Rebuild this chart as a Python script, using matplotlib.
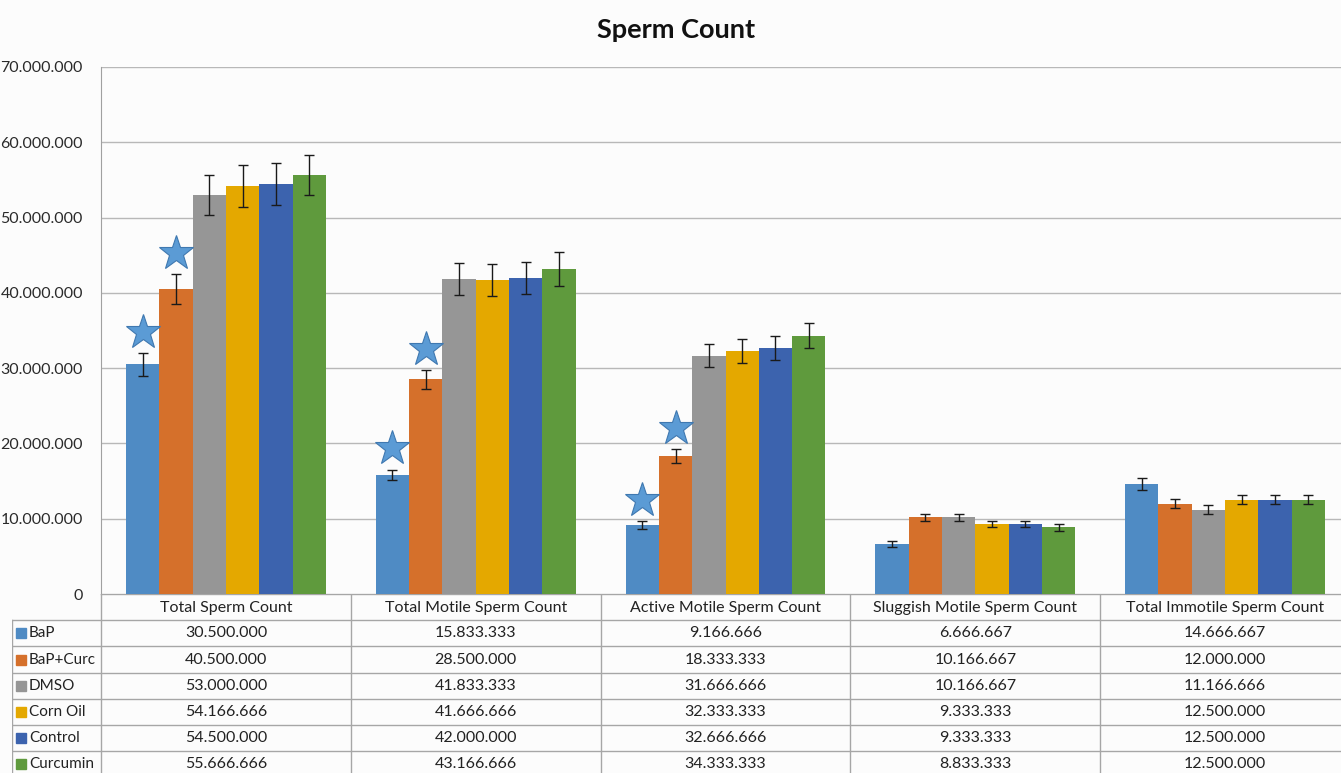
import numpy as np
import matplotlib.pyplot as plt
from matplotlib.ticker import FuncFormatter

plt.rcParams['font.family'] = ['Lato', 'DejaVu Sans']

categories = ['Total Sperm Count', 'Total Motile Sperm Count', 'Active Motile Sperm Count',
              'Sluggish Motile Sperm Count', 'Total Immotile Sperm Count']
groups = ['BaP', 'BaP+Curc', 'DMSO', 'Corn Oil', 'Control', 'Curcumin']
colors = ['#4f8bc4', '#d5702b', '#969696', '#e4a800', '#3c63ae', '#5f9a3d']

bap = [30500000, 15833333, 9166666, 6666667, 14666667]
bap_curc = [40500000, 28500000, 18333333, 10166667, 12000000]
dmso = [53000000, 41833333, 31666666, 10166667, 11166666]
corn_oil = [54166666, 41666666, 32333333, 9333333, 12500000]
control = [54500000, 42000000, 32666666, 9333333, 12500000]
curcumin = [55666666, 43166666, 34333333, 8833333, 12500000]

bap_err = [1500000, 700000, 500000, 400000, 800000]
bap_curc_err = [2000000, 1300000, 900000, 500000, 600000]
dmso_err = [2600000, 2100000, 1500000, 500000, 600000]
corn_oil_err = [2800000, 2100000, 1600000, 400000, 600000]
control_err = [2800000, 2100000, 1600000, 400000, 600000]
curcumin_err = [2700000, 2200000, 1700000, 400000, 600000]

# significance stars: (group index, category index)
stars = [(0, 0), (1, 0), (0, 1), (1, 1), (0, 2), (1, 2)]

series = [bap, bap_curc, dmso, corn_oil, control, curcumin]
errs = [bap_err, bap_curc_err, dmso_err, corn_oil_err, control_err, curcumin_err]


def dots(v, pos=None):
    return f"{int(v):,}".replace(',', '.')


W, H = 1341, 773
fig = plt.figure(figsize=(W / 100, H / 100), dpi=100, facecolor='#fcfcfc')

# main bar axes (extends a little past the right edge, like the original export)
ax = fig.add_axes([101 / W, 179 / H, 1249 / W, 527 / H])
ax.set_facecolor('#fcfcfc')
x = np.arange(len(categories))
w = 0.8 / len(groups)
for i, (vals, e, c) in enumerate(zip(series, errs, colors)):
    pos = x + (i - 2.5) * w
    ax.bar(pos, vals, w, color=c, zorder=2)
    ax.errorbar(pos, vals, yerr=e, fmt='none', ecolor='#1a1a1a', elinewidth=1,
                capsize=3.5, capthick=1, zorder=3)

for g, k in stars:
    ys = series[g][k] + errs[g][k] + 2800000
    ax.plot(x[k] + (g - 2.5) * w, ys, marker='*', markersize=26,
            color='#5b9bd5', markeredgecolor='#3f78b0', markeredgewidth=0.8, zorder=4)

ax.set_xlim(-0.5, len(categories) - 0.5)
ax.set_ylim(0, 70000000)
ax.set_yticks(np.arange(0, 70000001, 10000000))
ax.yaxis.set_major_formatter(FuncFormatter(dots))
ax.tick_params(axis='y', length=0, labelsize=11.5, colors='#2a2a2a', pad=13)
ax.set_xticks([])
ax.grid(axis='y', color='#b8b8b8', lw=1, zorder=0)
for s in ['top', 'right', 'bottom']:
    ax.spines[s].set_visible(False)
ax.spines['left'].set_color('#a0a0a0')

fig.text(676 / W, 1 - 30 / H, 'Sperm Count', ha='center', va='center',
         fontsize=19.5, fontweight='bold', color='#111111')

# data table below the plot
row_h = 26.2
lead = 89 / 249.8
tax = fig.add_axes([12 / W, 0, 1338 / W, 179 / H])
tax.set_xlim(-0.5 - lead, len(categories) - 0.5)
tax.set_ylim(179 / row_h, 0)
tax.axis('off')
lc = '#a6a6a6'
nrows = len(groups)
tax.plot([-0.5, len(categories) - 0.5], [0, 0], color=lc, lw=1)
for r in range(1, nrows + 1):
    tax.plot([-0.5 - lead, len(categories) - 0.5], [r, r], color=lc, lw=1)
for k in range(len(categories) + 1):
    tax.plot([k - 0.5, k - 0.5], [0, 10], color=lc, lw=1)
tax.plot([-0.5 - lead + 0.002, -0.5 - lead + 0.002], [1, 10], color=lc, lw=1)

for k, cat in enumerate(categories):
    tax.text(k, 0.55, cat, ha='center', va='center', fontsize=11.5, color='#222222')
for r, (name, vals, c) in enumerate(zip(groups, series, colors)):
    yc = r + 1.5
    tax.plot(-0.5 - lead + 9 / 249.8, yc, marker='s', markersize=7, color=c)
    tax.text(-0.5 - lead + 17 / 249.8, yc, name, ha='left', va='center',
             fontsize=11, color='#222222')
    for k, v in enumerate(vals):
        tax.text(k, yc, dots(v), ha='center', va='center', fontsize=11.5, color='#222222')

fig.savefig('out.png', dpi=100, facecolor=fig.get_facecolor())
